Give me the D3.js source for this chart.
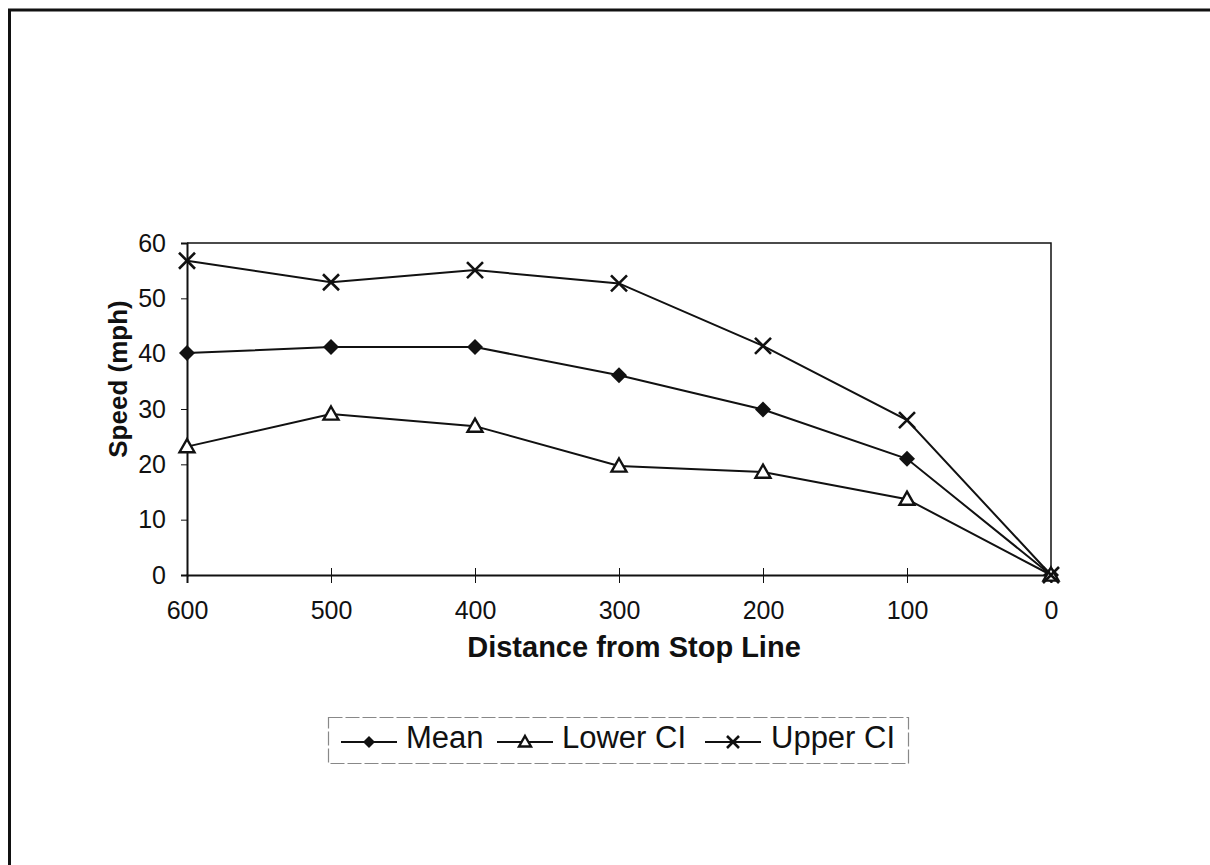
<!DOCTYPE html>
<html>
<head>
   <title>Speed vs Distance from Stop Line</title>
   <script src="https://d3js.org/d3.v7.min.js"></script>
   <style>
      body { margin: 0; background: #fff; }
      text { font-family: "Liberation Sans", Arial, sans-serif; fill: #111; }
   </style>
</head>
<body>

		<script type="text/javascript">

			// data
			var distances = [600, 500, 400, 300, 200, 100, 0];
			var meanSpeed = [40.1, 41.2, 41.2, 36.1, 29.9, 21.0, 0];
			var lowerCI  = [23.2, 29.1, 26.9, 19.7, 18.6, 13.7, 0];
			var upperCI  = [56.8, 52.9, 55.1, 52.7, 41.4, 28.0, 0];
			var yTicks   = [0, 10, 20, 30, 40, 50, 60];
			var seriesNames = ["Mean", "Lower CI", "Upper CI"];
			var seriesShapes = ["diamond", "triangle", "cross"];

			var w = 1210;
			var h = 865;

			// plot area (don't call it "top", window.top is taken)
			var pLeft = 187, pRight = 1051, pTop = 243, pBottom = 575;

			var svg = d3.select("body").append("svg").attr("width", w).attr("height", h);

			// the outer frame only shows on the left and top
			svg.append("path")
				.attr("d", "M9.5," + h + " L9.5,10 L" + w + ",10")
				.attr("fill", "none")
				.attr("stroke", "#111")
				.attr("stroke-width", 3);

			var x = d3.scaleLinear().domain([600, 0]).range([pLeft, pRight]);
			var y = d3.scaleLinear().domain([0, 60]).range([pBottom, pTop]);

			// top and right edge of plot area
			svg.append("path")
				.attr("d", "M" + pLeft + "," + pTop + " L" + pRight + "," + pTop + " L" + pRight + "," + pBottom)
				.attr("fill", "none")
				.attr("stroke", "#111")
				.attr("stroke-width", 1.5);

			var xAxis = svg.append("g")
				.attr("transform", "translate(0," + pBottom + ")")
				.call(d3.axisBottom(x).tickValues(distances).tickSize(8).tickPadding(18).tickFormat(d3.format("d")));
			xAxis.selectAll("line").attr("y1", -7).attr("stroke", "#111");
			xAxis.select(".domain").attr("stroke", "#111").attr("stroke-width", 2);
			xAxis.selectAll("text").attr("font-size", "25px").attr("fill", "#111")
				.style("font-family", "'Liberation Sans', Arial, sans-serif");

			var yAxis = svg.append("g")
				.attr("transform", "translate(" + pLeft + ",0)")
				.call(d3.axisLeft(y).tickValues(yTicks).tickSize(6).tickPadding(15));
			yAxis.selectAll("line").attr("stroke", "#111");
			yAxis.select(".domain").attr("stroke", "#111").attr("stroke-width", 2);
			yAxis.selectAll("text").attr("font-size", "25px").attr("fill", "#111")
				.style("font-family", "'Liberation Sans', Arial, sans-serif");

			// axis titles
			svg.append("text")
				.text("Distance from Stop Line")
				.attr("x", 634)
				.attr("y", 657)
				.attr("text-anchor", "middle")
				.attr("font-size", "29px")
				.attr("font-weight", "bold");

			svg.append("text")
				.text("Speed (mph)")
				.attr("transform", "translate(127,379) rotate(-90)")
				.attr("text-anchor", "middle")
				.attr("font-size", "26px")
				.attr("font-weight", "bold");

			var allSeries = [meanSpeed, lowerCI, upperCI];

			var line = d3.line()
				.x(function(d, i) { return x(distances[i]); })
				.y(function(d) { return y(d); });

			// draws a marker of the given shape at 0,0 of group g
			function drawMarker(g, shape, s) {
				if (shape == "diamond") {
					g.append("path")
						.attr("d", "M0," + (-s) + " L" + s + ",0 L0," + s + " L" + (-s) + ",0 Z")
						.attr("fill", "#111");
				} else if (shape == "triangle") {
					g.append("path")
						.attr("d", "M0," + (-s) + " L" + s + "," + (s * 0.75) + " L" + (-s) + "," + (s * 0.75) + " Z")
						.attr("fill", "#fff")
						.attr("stroke", "#111")
						.attr("stroke-width", 2.4);
				} else {
					g.append("path")
						.attr("d", "M" + (-s) + "," + (-s) + " L" + s + "," + s + " M" + s + "," + (-s) + " L" + (-s) + "," + s)
						.attr("stroke", "#111")
						.attr("stroke-width", 2.6);
				}
			}

			allSeries.forEach(function(vals, k) {
				svg.append("path")
					.attr("d", line(vals))
					.attr("fill", "none")
					.attr("stroke", "#111")
					.attr("stroke-width", 2);

				vals.forEach(function(v, i) {
					var g = svg.append("g")
						.attr("transform", "translate(" + x(distances[i]) + "," + y(v) + ")");
					drawMarker(g, seriesShapes[k], k == 1 ? 7.5 : 8);
				});
			});

			// legend
			var lg = svg.append("g");
			lg.append("rect")
				.attr("x", 328.5).attr("y", 717.5)
				.attr("width", 580).attr("height", 46)
				.attr("fill", "none")
				.attr("stroke", "#888")
				.attr("stroke-width", 1.2)
				.attr("stroke-dasharray", "14,3");

			var legendX = [341, 497, 705];
			var textX = [406, 562, 771];
			seriesNames.forEach(function(name, k) {
				lg.append("line")
					.attr("x1", legendX[k]).attr("x2", legendX[k] + 56)
					.attr("y1", 742).attr("y2", 742)
					.attr("stroke", "#111").attr("stroke-width", 2);
				var g = lg.append("g").attr("transform", "translate(" + (legendX[k] + 28) + ",742)");
				drawMarker(g, seriesShapes[k], 6);
				lg.append("text")
					.text(name)
					.attr("x", textX[k])
					.attr("y", 748)
					.attr("font-size", "31px");
			});
		</script>

</body>
</html>
